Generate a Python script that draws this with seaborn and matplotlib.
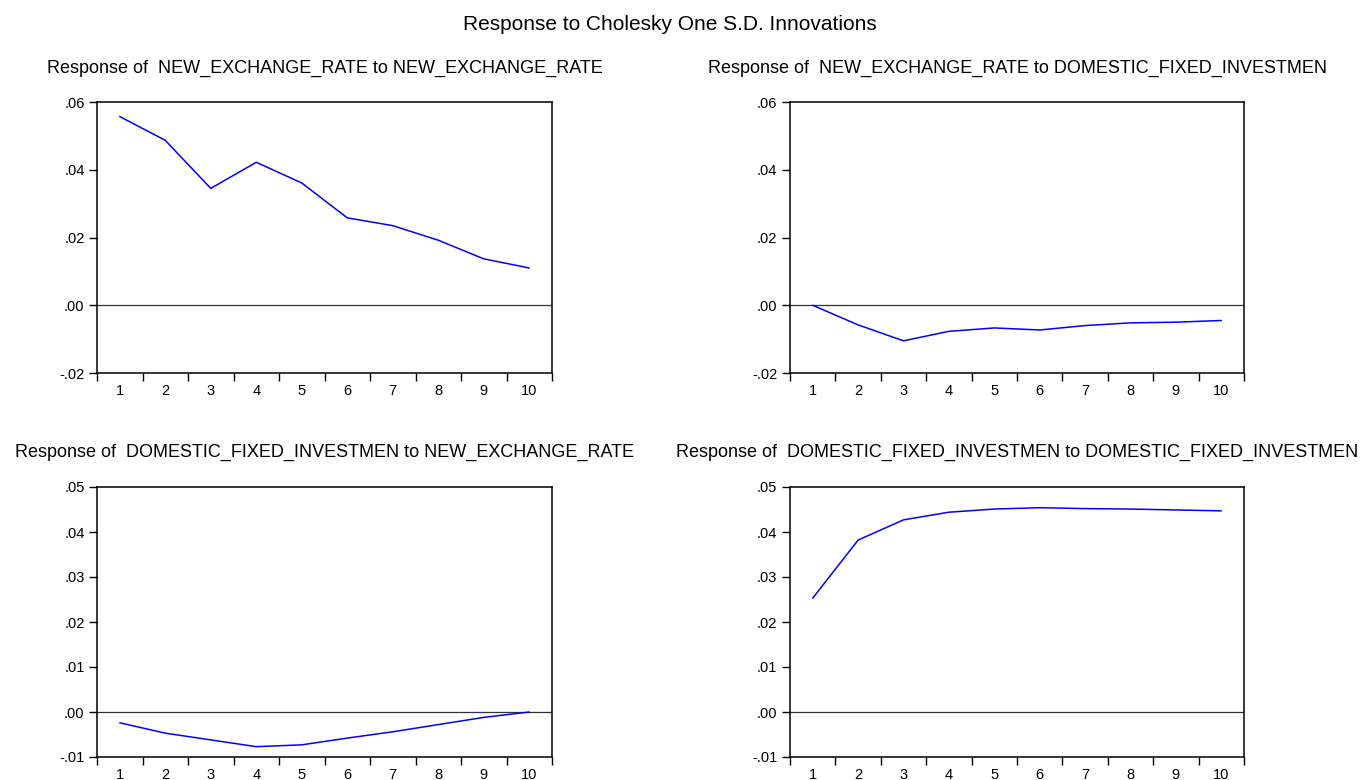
import numpy as np
import pandas as pd
import seaborn as sns
import matplotlib.pyplot as plt
from matplotlib.ticker import FuncFormatter

sns.set_style("ticks")
plt.rcParams['font.family'] = ['Liberation Sans', 'DejaVu Sans']
plt.rcParams['text.color'] = 'black'
plt.rcParams['xtick.color'] = 'black'
plt.rcParams['ytick.color'] = 'black'
plt.rcParams['axes.edgecolor'] = 'black'

# Periods and impulse responses
periods = list(range(1, 11))
exr_to_exr = [0.0557, 0.0487, 0.0345, 0.0422, 0.0361, 0.0258, 0.0235, 0.0192, 0.0137, 0.0110]
exr_to_dfi = [0.0000, -0.0058, -0.0105, -0.0077, -0.0067, -0.0073, -0.0060, -0.0052, -0.0050, -0.0045]
dfi_to_exr = [-0.0024, -0.0047, -0.0062, -0.0077, -0.0073, -0.0058, -0.0044, -0.0028, -0.0012, 0.0000]
dfi_to_dfi = [0.0253, 0.0382, 0.0427, 0.0444, 0.0451, 0.0454, 0.0452, 0.0451, 0.0449, 0.0447]

titles = ["Response of  NEW_EXCHANGE_RATE to NEW_EXCHANGE_RATE",
          "Response of  NEW_EXCHANGE_RATE to DOMESTIC_FIXED_INVESTMEN",
          "Response of  DOMESTIC_FIXED_INVESTMEN to NEW_EXCHANGE_RATE",
          "Response of  DOMESTIC_FIXED_INVESTMEN to DOMESTIC_FIXED_INVESTMEN"]
yticks_top = [-0.02, 0.00, 0.02, 0.04, 0.06]
yticks_bottom = [-0.01, 0.00, 0.01, 0.02, 0.03, 0.04, 0.05]

W, H = 1370, 780
fig = plt.figure(figsize=(W / 100, H / 100), dpi=100)

def px_axes(x0, y0, x1, y1):
    return fig.add_axes([x0 / W, 1 - y1 / H, (x1 - x0) / W, (y1 - y0) / H])

def fmt(v, pos):
    s = f"{v:.2f}"
    return s.replace("0.", ".", 1)

panels = [
    (px_axes(97, 102, 552, 373), exr_to_exr, yticks_top, titles[0], 68),
    (px_axes(790, 102, 1244, 373), exr_to_dfi, yticks_top, titles[1], 68),
    (px_axes(97, 487, 552, 757), dfi_to_exr, yticks_bottom, titles[2], 452),
    (px_axes(790, 487, 1244, 757), dfi_to_dfi, yticks_bottom, titles[3], 452),
]

for ax, vals, yt, title, ty in panels:
    df = pd.DataFrame({"period": periods, "response": vals})
    sns.lineplot(data=df, x="period", y="response", ax=ax, color="#0000FF", linewidth=1.1)
    ax.axhline(0, color="#333333", linewidth=0.9, zorder=1)
    ax.set_xlim(0.5, 10.5)
    ax.set_ylim(yt[0], yt[-1])
    ax.set_yticks(yt)
    ax.yaxis.set_major_formatter(FuncFormatter(fmt))
    # ticks between periods, labels centred on the periods
    ax.set_xticks(np.arange(0.5, 11, 1.0))
    ax.set_xticklabels([])
    ax.set_xticks(periods, minor=True)
    ax.set_xticklabels([str(p) for p in periods], minor=True)
    ax.tick_params(axis="x", which="major", direction="out", length=5.5, width=1, color="black")
    ax.tick_params(axis="x", which="minor", length=0, pad=8, labelsize=10.5, labelcolor="black")
    ax.tick_params(axis="y", direction="out", length=6, width=1, labelsize=10.5, pad=3,
                   labelcolor="black")
    ax.set_xlabel("")
    ax.set_ylabel("")
    for sp in ax.spines.values():
        sp.set_visible(True)
        sp.set_color("black")
        sp.set_linewidth(1.1)
    pos = ax.get_position()
    fig.text((pos.x0 + pos.x1) / 2, 1 - ty / H, title, ha="center", va="center",
             fontsize=13, color="black")

fig.text(670 / W, 1 - 25 / H, "Response to Cholesky One S.D. Innovations",
         ha="center", va="center", fontsize=15, color="black")

fig.savefig("out.png", dpi=100, facecolor="white")
